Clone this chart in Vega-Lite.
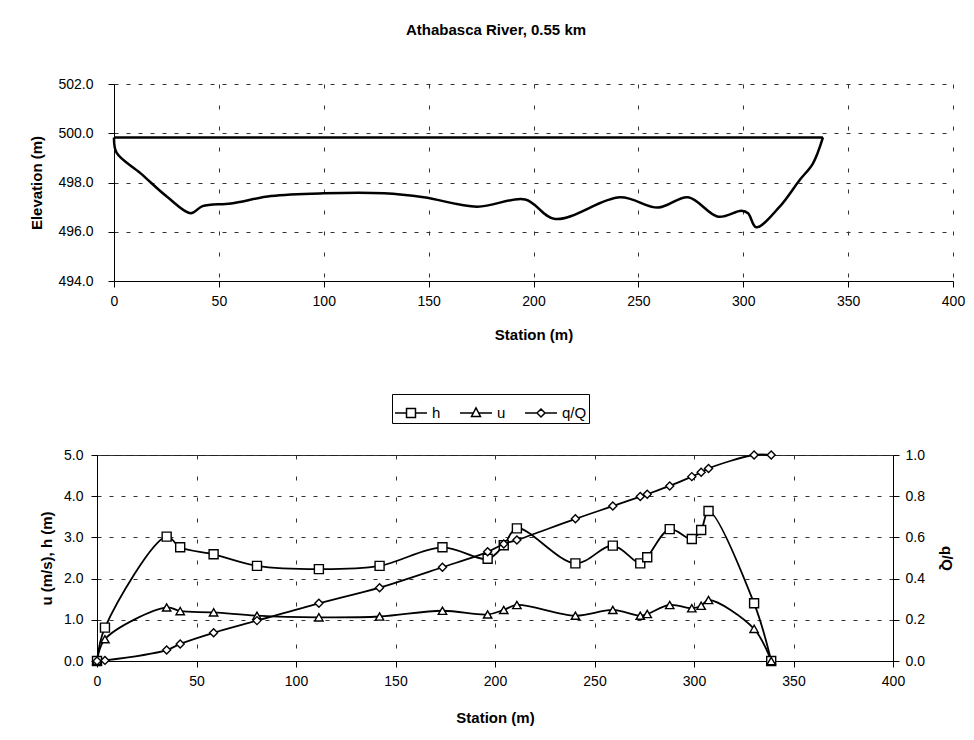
{
  "$schema": "https://vega.github.io/schema/vega-lite/v6.json",
  "background": "white",
  "padding": {"left": 29, "top": 23, "right": 5, "bottom": 5},
  "datasets": {
    "section": [
      {"series": "bed", "station": 0, "elev": 499.83},
      {"series": "bed", "station": 1.3, "elev": 499.2},
      {"series": "bed", "station": 12.7, "elev": 498.37},
      {"series": "bed", "station": 25.3, "elev": 497.42},
      {"series": "bed", "station": 36.6, "elev": 496.75},
      {"series": "bed", "station": 42.2, "elev": 497.04},
      {"series": "bed", "station": 55.8, "elev": 497.15},
      {"series": "bed", "station": 74.9, "elev": 497.45},
      {"series": "bed", "station": 100, "elev": 497.56},
      {"series": "bed", "station": 128.7, "elev": 497.56},
      {"series": "bed", "station": 147.7, "elev": 497.4},
      {"series": "bed", "station": 173.1, "elev": 497.02},
      {"series": "bed", "station": 196, "elev": 497.31},
      {"series": "bed", "station": 210.3, "elev": 496.52},
      {"series": "bed", "station": 241.2, "elev": 497.4},
      {"series": "bed", "station": 259.4, "elev": 496.98},
      {"series": "bed", "station": 273.7, "elev": 497.4},
      {"series": "bed", "station": 288, "elev": 496.61},
      {"series": "bed", "station": 299.1, "elev": 496.85},
      {"series": "bed", "station": 302.3, "elev": 496.75},
      {"series": "bed", "station": 306.2, "elev": 496.18},
      {"series": "bed", "station": 317.4, "elev": 497.02},
      {"series": "bed", "station": 326.9, "elev": 498.1},
      {"series": "bed", "station": 333.2, "elev": 498.77},
      {"series": "bed", "station": 338, "elev": 499.83},
      {"series": "water", "station": 0, "elev": 499.83},
      {"series": "water", "station": 338, "elev": 499.83}
    ],
    "hyd": [
      {"var": "h", "station": 0, "value": 0},
      {"var": "h", "station": 4, "value": 0.81},
      {"var": "h", "station": 35, "value": 3.02},
      {"var": "h", "station": 41.8, "value": 2.76},
      {"var": "h", "station": 58.6, "value": 2.59},
      {"var": "h", "station": 80.4, "value": 2.31},
      {"var": "h", "station": 111.5, "value": 2.23},
      {"var": "h", "station": 142, "value": 2.31},
      {"var": "h", "station": 173.6, "value": 2.76},
      {"var": "h", "station": 196.3, "value": 2.48},
      {"var": "h", "station": 204.4, "value": 2.81},
      {"var": "h", "station": 211, "value": 3.22},
      {"var": "h", "station": 240.4, "value": 2.37},
      {"var": "h", "station": 259.2, "value": 2.8},
      {"var": "h", "station": 273, "value": 2.37},
      {"var": "h", "station": 276.5, "value": 2.52},
      {"var": "h", "station": 287.8, "value": 3.2},
      {"var": "h", "station": 298.9, "value": 2.96},
      {"var": "h", "station": 303.6, "value": 3.18},
      {"var": "h", "station": 307.3, "value": 3.64},
      {"var": "h", "station": 330.2, "value": 1.4},
      {"var": "h", "station": 338.8, "value": 0},
      {"var": "u", "station": 0, "value": 0},
      {"var": "u", "station": 4, "value": 0.53},
      {"var": "u", "station": 35, "value": 1.3},
      {"var": "u", "station": 41.8, "value": 1.21},
      {"var": "u", "station": 58.6, "value": 1.18},
      {"var": "u", "station": 80.4, "value": 1.1},
      {"var": "u", "station": 111.5, "value": 1.06},
      {"var": "u", "station": 142, "value": 1.08},
      {"var": "u", "station": 173.6, "value": 1.22},
      {"var": "u", "station": 196.3, "value": 1.13},
      {"var": "u", "station": 204.4, "value": 1.24},
      {"var": "u", "station": 211, "value": 1.36},
      {"var": "u", "station": 240.4, "value": 1.1},
      {"var": "u", "station": 259.2, "value": 1.24},
      {"var": "u", "station": 273, "value": 1.1},
      {"var": "u", "station": 276.5, "value": 1.14},
      {"var": "u", "station": 287.8, "value": 1.36},
      {"var": "u", "station": 298.9, "value": 1.28},
      {"var": "u", "station": 303.6, "value": 1.34},
      {"var": "u", "station": 307.3, "value": 1.48},
      {"var": "u", "station": 330.2, "value": 0.78},
      {"var": "u", "station": 338.8, "value": 0},
      {"var": "q/Q", "station": 0, "value": 0},
      {"var": "q/Q", "station": 4, "value": 0.003},
      {"var": "q/Q", "station": 35, "value": 0.053},
      {"var": "q/Q", "station": 41.8, "value": 0.083},
      {"var": "q/Q", "station": 58.6, "value": 0.137},
      {"var": "q/Q", "station": 80.4, "value": 0.196},
      {"var": "q/Q", "station": 111.5, "value": 0.28},
      {"var": "q/Q", "station": 142, "value": 0.356},
      {"var": "q/Q", "station": 173.6, "value": 0.455},
      {"var": "q/Q", "station": 196.3, "value": 0.53},
      {"var": "q/Q", "station": 204.4, "value": 0.568},
      {"var": "q/Q", "station": 211, "value": 0.587},
      {"var": "q/Q", "station": 240.4, "value": 0.69},
      {"var": "q/Q", "station": 259.2, "value": 0.752},
      {"var": "q/Q", "station": 273, "value": 0.798},
      {"var": "q/Q", "station": 276.5, "value": 0.81},
      {"var": "q/Q", "station": 287.8, "value": 0.85},
      {"var": "q/Q", "station": 298.9, "value": 0.895},
      {"var": "q/Q", "station": 303.6, "value": 0.916},
      {"var": "q/Q", "station": 307.3, "value": 0.935},
      {"var": "q/Q", "station": 330.2, "value": 1.0},
      {"var": "q/Q", "station": 338.8, "value": 1.0}
    ]
  },
  "config": {
    "font": "Liberation Sans",
    "view": {"stroke": "#222", "strokeWidth": 1},
    "axis": {
      "labelFont": "Liberation Sans", "labelFontSize": 14, "labelColor": "black",
      "titleFont": "Liberation Sans", "titleFontSize": 15, "titleFontWeight": "bold", "titleColor": "black",
      "domainColor": "black", "tickColor": "black", "tickSize": 6,
      "gridColor": "#333", "gridWidth": 1
    },
    "axisX": {"gridDash": [4, 17], "labelFlush": false},
    "axisY": {"gridDash": [4, 8]}
  },
  "columns": 1,
  "spacing": 51,
  "resolve": {"legend": {"shape": "independent"}, "scale": {"x": "independent", "y": "independent", "shape": "independent"}},
  "concat": [
    {
      "width": 856,
      "height": 197,
      "view": {"stroke": null},
      "title": {"text": "Athabasca River, 0.55 km", "fontSize": 15, "fontWeight": "bold", "font": "Liberation Sans", "color": "black", "offset": 39, "dx": -29, "anchor": "middle"},
      "encoding": {
        "x": {"field": "station", "type": "quantitative", "scale": {"domain": [0, 400], "nice": false, "range": [17, 856]},
              "axis": {"values": [0, 50, 100, 150, 200, 250, 300, 350, 400], "title": "Station (m)", "labelPadding": 7, "titlePadding": 19, "grid": true}},
        "y": {"field": "elev", "type": "quantitative", "scale": {"domain": [494, 502], "nice": false, "zero": false},
              "axis": {"values": [494, 496, 498, 500, 502], "format": ".1f", "title": "Elevation (m)", "labelPadding": 15, "minExtent": 56, "maxExtent": 56, "titlePadding": 14, "grid": true, "offset": -17}}
      },
      "layer": [
        {
          "data": {"name": "section"},
          "mark": {"type": "line", "interpolate": "catmull-rom", "color": "black", "strokeWidth": 2.5},
          "encoding": {"detail": {"field": "series"}}
        },
        {
          "data": {"values": [{}]},
          "mark": {"type": "rect", "fill": null, "fillOpacity": 0, "stroke": "#222", "strokeWidth": 1},
          "encoding": {
            "x": {"datum": 0, "type": "quantitative"},
            "x2": {"datum": 400},
            "y": {"datum": 494, "type": "quantitative"},
            "y2": {"datum": 502}
          }
        }
      ]
    },
    {
      "width": 796,
      "height": 206,
      "data": {"name": "hyd"},
      "layer": [
        {
          "encoding": {
            "x": {"field": "station", "type": "quantitative", "scale": {"domain": [0, 400], "nice": false},
                  "axis": {"values": [0, 50, 100, 150, 200, 250, 300, 350, 400], "title": "Station (m)", "labelPadding": 7, "titlePadding": 22, "grid": true}},
            "y": {"field": "value", "type": "quantitative", "scale": {"domain": [0, 5], "nice": false},
                  "axis": {"values": [0, 1, 2, 3, 4, 5], "format": ".1f", "title": "u (m/s), h (m)", "labelPadding": 8, "minExtent": 38, "maxExtent": 38, "titlePadding": 5, "grid": true}}
          },
          "layer": [
            {
              "transform": [{"filter": "datum.var !== 'q/Q'"}],
              "mark": {"type": "line", "interpolate": "catmull-rom", "color": "black", "strokeWidth": 1.8},
              "encoding": {"detail": {"field": "var"}}
            },
            {
              "transform": [{"filter": "datum.var === 'h'"}],
              "mark": {"type": "point", "shape": "square", "size": 81, "filled": true, "fill": "white", "stroke": "black", "strokeWidth": 1.4, "opacity": 1}
            },
            {
              "transform": [{"filter": "datum.var === 'u'"}],
              "mark": {"type": "point", "shape": "triangle-up", "size": 70, "filled": true, "fill": "white", "stroke": "black", "strokeWidth": 1.4, "opacity": 1}
            },
            {
              "transform": [{"filter": "false"}],
              "mark": {"type": "point", "filled": false, "color": "black", "strokeWidth": 1.5, "opacity": 1},
              "encoding": {
                "shape": {"field": "var", "type": "nominal",
                  "scale": {"domain": ["h", "u", "q/Q"], "range": [
                    "M-1,0H-0.28M0.28,0H1M-0.28,-0.28H0.28V0.28H-0.28Z",
                    "M-1,0H-0.17M0.17,0H1M0,-0.32L0.28,0.22H-0.28Z",
                    "M-1,0H-0.25M0.25,0H1M0,-0.25L0.25,0L0,0.25L-0.25,0Z"
                  ]},
                  "legend": {"title": null, "orient": "none", "legendX": 295, "legendY": -61, "direction": "horizontal",
                    "strokeColor": "black", "fillColor": "white", "padding": 2,
                    "symbolSize": 1024, "symbolStrokeWidth": 1.5, "symbolStrokeColor": "black", "symbolFillColor": "white",
                    "labelFont": "Liberation Sans", "labelFontSize": 15, "labelColor": "black", "labelOffset": 4, "columnPadding": 16}
                }
              }
            }
          ]
        },
        {
          "transform": [{"filter": "datum.var === 'q/Q'"}],
          "encoding": {
            "x": {"field": "station", "type": "quantitative", "scale": {"domain": [0, 400], "nice": false},
                  "axis": {"values": [0, 50, 100, 150, 200, 250, 300, 350, 400], "title": "Station (m)", "labelPadding": 7, "titlePadding": 22, "grid": true}},
            "y": {"field": "value", "type": "quantitative", "scale": {"domain": [0, 1], "nice": false},
                  "axis": {"orient": "right", "values": [0, 0.2, 0.4, 0.6, 0.8, 1.0], "format": ".1f", "title": "q/Q", "titleAngle": 90, "labelPadding": 6, "titlePadding": 14, "grid": false}}
          },
          "layer": [
            {"mark": {"type": "line", "interpolate": "catmull-rom", "color": "black", "strokeWidth": 1.8}},
            {"mark": {"type": "point", "shape": "diamond", "size": 64, "filled": true, "fill": "white", "stroke": "black", "strokeWidth": 1.4, "opacity": 1}}
          ]
        }
      ],
      "resolve": {"scale": {"y": "independent"}}
    }
  ]
}
